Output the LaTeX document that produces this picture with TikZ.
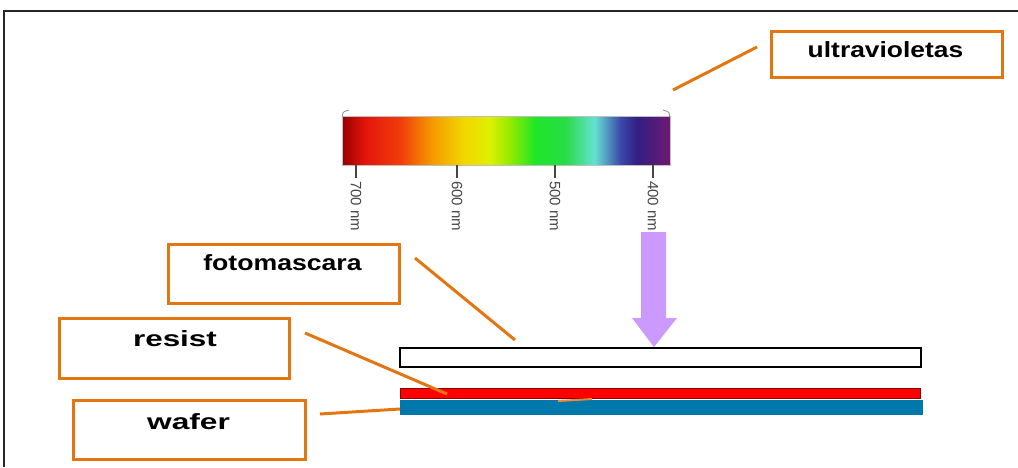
\documentclass[tikz,border=0pt]{standalone}
\usepackage{fontspec}
\setmainfont{Liberation Sans}
\begin{document}
% palette
\definecolor{callout}{RGB}{228,118,18}
\definecolor{uvlight}{RGB}{204,153,255}
\definecolor{waferblue}{RGB}{0,120,172}
\definecolor{resistred}{RGB}{255,0,0}
\definecolor{resistedge}{RGB}{140,0,0}
\definecolor{tickgray}{RGB}{70,70,70}
% visible spectrum stops
\definecolor{sp0}{RGB}{150,0,0}
\definecolor{sp1}{RGB}{228,20,12}
\definecolor{sp2}{RGB}{240,62,10}
\definecolor{sp3}{RGB}{245,150,0}
\definecolor{sp4}{RGB}{242,215,0}
\definecolor{sp5}{RGB}{222,240,0}
\definecolor{sp6}{RGB}{150,235,0}
\definecolor{sp7}{RGB}{30,230,40}
\definecolor{sp8}{RGB}{40,220,70}
\definecolor{sp9}{RGB}{100,225,210}
\definecolor{sp10}{RGB}{60,70,170}
\definecolor{sp11}{RGB}{50,30,130}
\definecolor{sp12}{RGB}{112,25,112}
\pgfdeclarehorizontalshading{spectrum}{100bp}{%
  color(0bp)=(sp0); color(25bp)=(sp0); color(28.5bp)=(sp1);
  color(34bp)=(sp2); color(38.5bp)=(sp3); color(43.5bp)=(sp4);
  color(47.5bp)=(sp5); color(50.5bp)=(sp6); color(54.5bp)=(sp7);
  color(59bp)=(sp8); color(63.5bp)=(sp9); color(67.5bp)=(sp10);
  color(70bp)=(sp11); color(75bp)=(sp12); color(100bp)=(sp12)}
\begin{tikzpicture}[x=1pt,y=-1pt,
  obox/.style={draw=callout, line width=3pt, inner sep=0pt},
  lead/.style={draw=callout, line width=3pt},
  lbl/.style={inner sep=0pt, anchor=base,
    font=\fontsize{22}{26}\selectfont\bfseries},
  nm/.style={inner sep=0pt, anchor=west, rotate=-90, text=tickgray,
    font=\fontsize{15}{18}\selectfont},
  tick/.style={draw=tickgray, line width=2.5pt}]
\useasboundingbox (0,0) rectangle (1018,467);
\fill[white] (0,0) rectangle (1018,467);

% outer frame (top and left edges)
\draw[line width=1.5pt, black!85] (4,467) -- (4,11) -- (1018,11);

% spectrum bar with its scale
\node[inner sep=0pt, minimum width=328, minimum height=49,
      shading=spectrum, draw=black!25, line width=0.6pt] (bar) at (506,140.5) {};
\draw[black!45, line width=0.8pt] (342.5,117) .. controls (342.5,112) .. (349,110);
\draw[black!45, line width=0.8pt] (669.5,117) .. controls (669.5,112) .. (663,110);
\foreach \tx/\wl in {356/700, 457/600, 555/500, 653/400}{
  \draw[tick] (\tx,165) -- (\tx,178);
  \node[nm] at (\tx,181) {\wl{} nm};
}

% ultraviolet beam
\fill[uvlight] (641,232) -- (666,232) -- (666,318) -- (677,318)
  -- (654,347) -- (632,318) -- (641,318) -- cycle;

% photomask, resist layer and wafer
\node[draw=black, line width=2.5pt, fill=white, inner sep=0pt,
      minimum width=521, minimum height=19] (mask) at (660.5,357.5) {};
\node[draw=resistedge, fill=resistred, line width=1.5pt, inner sep=0pt,
      minimum width=520, minimum height=10] (resist) at (660.5,393.5) {};
\node[fill=waferblue, inner sep=0pt,
      minimum width=523, minimum height=15] (wafer) at (661.5,407.5) {};
\draw[callout!85, line width=2pt] (558,401) -- (592,399);

% callout boxes
\node[obox, minimum width=231, minimum height=46] (uvbox) at (887,54.5) {};
\node[obox, minimum width=231, minimum height=59] (fmbox) at (284,274) {};
\node[obox, minimum width=230, minimum height=60] (rsbox) at (174.5,348.5) {};
\node[obox, minimum width=232, minimum height=59] (wfbox) at (189.5,430) {};

\node[lbl] (uvtxt) at (885.5,57) {\scalebox{1.2}[1]{ultravioletas}};
\node[lbl] (fmtxt) at (282.5,270) {\scalebox{1.21}[1]{fotomascara}};
\node[lbl] (rstxt) at (175,346) {\scalebox{1.43}[1]{resist}};
\node[lbl] (wftxt) at (188.5,429) {\scalebox{1.44}[1]{wafer}};

% leader lines
\coordinate (uvA) at (757,47);   \coordinate (uvB) at (673,90);
\coordinate (fmA) at (415,258);  \coordinate (fmB) at (515,340);
\coordinate (rsA) at (305,333);  \coordinate (rsB) at (447,394);
\coordinate (wfA) at (320,414);  \coordinate (wfB) at (400,409);
\draw[lead] (uvA) -- (uvB);
\draw[lead] (fmA) -- (fmB);
\draw[lead] (rsA) -- (rsB);
\draw[lead] (wfA) -- (wfB);
\end{tikzpicture}
\end{document}
